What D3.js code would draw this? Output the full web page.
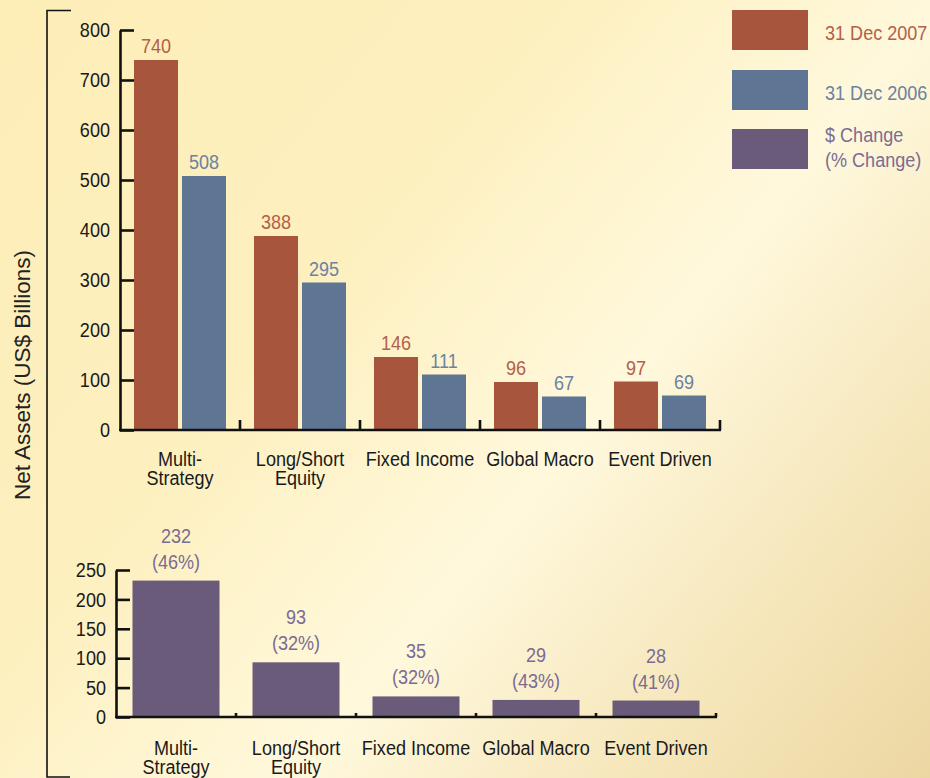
<!DOCTYPE html>
<html>
<head>
<meta charset="utf-8">
<script src="https://cdn.jsdelivr.net/npm/d3@7"></script>
<style>
  html, body { margin: 0; padding: 0; }
  svg { display: block; }
  text { font-family: "Liberation Sans", Arial, sans-serif; }
</style>
</head>
<body>
<svg id="chart" width="930" height="778"></svg>
<script>
// Hedge fund net assets by strategy (US$ billions)
const categories = ["Multi-Strategy", "Long/Short Equity", "Fixed Income", "Global Macro", "Event Driven"];
const categoryLines = [["Multi-", "Strategy"], ["Long/Short", "Equity"], ["Fixed Income"], ["Global Macro"], ["Event Driven"]];
const assets2007 = [740, 388, 146, 96, 97];
const assets2006 = [508, 295, 111, 67, 69];
const changeDollar = [232, 93, 35, 29, 28];
const changePct = [46, 32, 32, 43, 41];
const topTicks = [0, 100, 200, 300, 400, 500, 600, 700, 800];
const bottomTicks = [0, 50, 100, 150, 200, 250];
const seriesKeys = ["2007", "2006"];
const legendLabels = [["31 Dec 2007"], ["31 Dec 2006"], ["$ Change", "(% Change)"]];

const colors = { "2007": "#a8553e", "2006": "#5f7594", change: "#6a5b7b" };
const textColors = { "2007": "#b4604a", "2006": "#6b83a2", change: "#7b6c93" };

const FS = 21;        // label font size
const SX = 0.86;      // horizontal condensing of label type
const ink = "#1a1a1a";

const svg = d3.select("#chart");
const W = 930, H = 778;

// place a text at (x, y) with condensed glyphs
const at = (x, y) => `translate(${x},${y}) scale(${SX},1)`;

// background wash
const defs = svg.append("defs");
const grad = defs.append("linearGradient").attr("id", "bg")
  .attr("gradientUnits", "userSpaceOnUse")
  .attr("x1", 0).attr("y1", 0).attr("x2", W).attr("y2", H);
grad.append("stop").attr("offset", 0).attr("stop-color", "#fdeeb8");
grad.append("stop").attr("offset", 0.35).attr("stop-color", "#fdf0bf");
grad.append("stop").attr("offset", 0.6).attr("stop-color", "#fff8dc");
grad.append("stop").attr("offset", 0.8).attr("stop-color", "#f6e7bc");
grad.append("stop").attr("offset", 1).attr("stop-color", "#ecd7a2");
svg.append("rect").attr("width", W).attr("height", H).attr("fill", "url(#bg)");

// left bracket and shared y-axis title
svg.append("path")
  .attr("d", "M71,10.5 H47 V777 H70")
  .attr("fill", "none").attr("stroke", "#111").attr("stroke-width", 1.6);
svg.append("text")
  .attr("transform", "translate(30,375) rotate(-90)")
  .attr("text-anchor", "middle")
  .attr("font-size", 22.5).attr("fill", "#222")
  .text("Net Assets (US$ Billions)");

// ---------- upper panel: net assets ----------
const upper = { left: 120, right: 720, y0: 430, y1: 30 };
const x0 = d3.scaleBand().domain(categories).range([upper.left, upper.right]).padding(0);
const x1 = d3.scaleBand().domain(seriesKeys).range([14, x0.bandwidth() - 14]).paddingInner(4 / 48);
const yTop = d3.scaleLinear().domain([0, 800]).range([upper.y0, upper.y1]);

const rows = categories.map((c, i) => ({ cat: c, values: [
  { key: "2007", v: assets2007[i] }, { key: "2006", v: assets2006[i] }
]}));

const groups = svg.append("g").selectAll("g").data(rows).join("g")
  .attr("transform", d => `translate(${x0(d.cat)},0)`);
groups.selectAll("rect").data(d => d.values).join("rect")
  .attr("x", d => x1(d.key)).attr("width", x1.bandwidth())
  .attr("y", d => yTop(d.v)).attr("height", d => yTop(0) - yTop(d.v))
  .attr("fill", d => colors[d.key]);
groups.selectAll("text.val").data(d => d.values).join("text")
  .attr("class", "val")
  .attr("transform", d => at(x1(d.key) + x1.bandwidth() / 2, yTop(d.v) - 7))
  .attr("text-anchor", "middle").attr("font-size", FS)
  .attr("fill", d => textColors[d.key])
  .text(d => d.v);

function styleAxis(g) {
  g.select(".domain").attr("stroke", "#111").attr("stroke-width", 2.6);
  g.selectAll(".tick line").attr("stroke", "#111").attr("stroke-width", 2.6);
  g.selectAll(".tick text")
    .attr("font-size", FS).attr("fill", ink)
    .attr("font-family", "'Liberation Sans', Arial, sans-serif")
    .attr("transform", `scale(${SX},1)`)
    .attr("x", function () { return +d3.select(this).attr("x") / SX; });
}

const yAxisTop = d3.axisLeft(yTop).tickValues(topTicks).tickSizeInner(-14).tickSizeOuter(0).tickPadding(10);
svg.append("g").attr("transform", `translate(${upper.left},0)`).call(yAxisTop).call(styleAxis);

// baseline with boundary ticks
svg.append("line").attr("x1", upper.left - 1).attr("x2", upper.right + 1)
  .attr("y1", yTop(0)).attr("y2", yTop(0)).attr("stroke", "#111").attr("stroke-width", 2.6);
svg.append("g").selectAll("line").data(categories).join("line")
  .attr("x1", d => x0(d) + x0.bandwidth()).attr("x2", d => x0(d) + x0.bandwidth())
  .attr("y1", yTop(0)).attr("y2", yTop(0) - 10)
  .attr("stroke", "#111").attr("stroke-width", 2.6);

function categoryLabels(xScale, yBase) {
  svg.append("g").selectAll("text").data(categories).join("text")
    .attr("text-anchor", "middle").attr("font-size", FS).attr("fill", ink)
    .attr("transform", d => at(xScale(d) + xScale.bandwidth() / 2, yBase))
    .each(function (d, i) {
      d3.select(this).selectAll("tspan").data(categoryLines[i]).join("tspan")
        .attr("x", 0).attr("dy", (t, j) => j === 0 ? 0 : 19).text(t => t);
    });
}
categoryLabels(x0, yTop(0) + 36);

// ---------- lower panel: change ----------
const lower = { left: 116, right: 716, y0: 717, y1: 570 };
const xb = d3.scaleBand().domain(categories).range([lower.left, lower.right]).paddingInner(0.275).paddingOuter(0.1375);
const xbCell = d3.scaleBand().domain(categories).range([lower.left, lower.right]).padding(0);
const yBot = d3.scaleLinear().domain([0, 250]).range([lower.y0, lower.y1]);

const changeRows = categories.map((c, i) => ({ cat: c, v: changeDollar[i], p: changePct[i] }));
svg.append("g").selectAll("rect").data(changeRows).join("rect")
  .attr("x", d => xb(d.cat)).attr("width", xb.bandwidth())
  .attr("y", d => yBot(d.v)).attr("height", d => yBot(0) - yBot(d.v))
  .attr("fill", colors.change);
const cl = svg.append("g").selectAll("text").data(changeRows).join("text")
  .attr("text-anchor", "middle").attr("font-size", FS).attr("fill", textColors.change)
  .attr("transform", d => at(xb(d.cat) + xb.bandwidth() / 2, yBot(d.v) - 38));
cl.append("tspan").attr("x", 0).attr("dy", 0).text(d => d.v);
cl.append("tspan").attr("x", 0).attr("dy", 26).text(d => `(${d.p}%)`);

const yAxisBot = d3.axisLeft(yBot).tickValues(bottomTicks).tickSizeInner(-14).tickSizeOuter(0).tickPadding(10);
svg.append("g").attr("transform", `translate(${lower.left},0)`).call(yAxisBot).call(styleAxis);

svg.append("line").attr("x1", lower.left - 1).attr("x2", lower.right + 1)
  .attr("y1", yBot(0)).attr("y2", yBot(0)).attr("stroke", "#111").attr("stroke-width", 2.6);
svg.append("g").selectAll("line").data(categories).join("line")
  .attr("x1", d => xbCell(d) + xbCell.bandwidth()).attr("x2", d => xbCell(d) + xbCell.bandwidth())
  .attr("y1", yBot(0)).attr("y2", yBot(0) - 4)
  .attr("stroke", "#111").attr("stroke-width", 2.6);
categoryLabels(xbCell, yBot(0) + 38);

// ---------- legend ----------
const legendKeys = ["2007", "2006", "change"];
const legendY = [10, 70, 129];
const lg = svg.append("g").selectAll("g").data(legendKeys).join("g")
  .attr("transform", (d, i) => `translate(732,${legendY[i]})`);
lg.append("rect").attr("width", 76).attr("height", 40).attr("fill", d => colors[d]);
lg.append("text").attr("font-size", FS).attr("fill", d => textColors[d])
  .attr("transform", (d, i) => at(93, i === 2 ? 13 : 30))
  .each(function (d, i) {
    d3.select(this).selectAll("tspan").data(legendLabels[i]).join("tspan")
      .attr("x", 0).attr("dy", (t, j) => j === 0 ? 0 : 25).text(t => t);
  });
</script>
</body>
</html>
